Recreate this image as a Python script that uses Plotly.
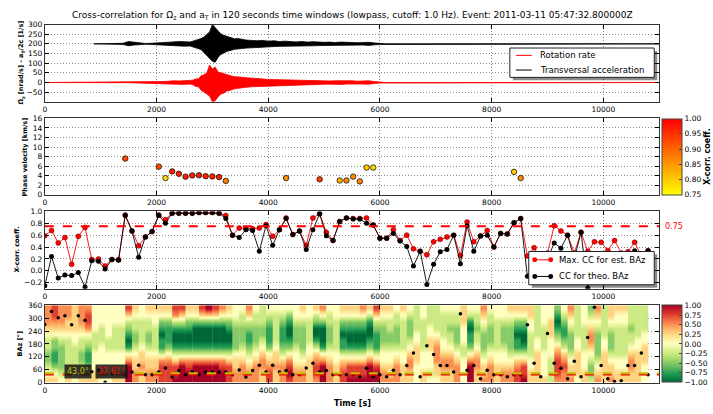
import plotly.graph_objects as go
import plotly.colors as pc

W, H = 713, 414

# ---------------- data ----------------
# seismogram envelopes (max / min per bin, relative to trace baseline)
seis_t = ([1400, 1500, 1600, 1700, 1800, 1900, 2000, 2100, 2200, 2300, 2400, 2500, 2600]
          + list(range(2650, 3501, 50)) + list(range(3600, 6001, 100)))
acc_hi = [3, 12, 8, 3, 2, 3, 4, 6, 9, 10, 12, 11, 10,
          14, 18, 22, 28, 35, 50, 62, 100, 85, 65, 52, 44, 40, 34, 30, 26, 28, 24,
          20, 18, 16, 18, 14, 16, 12, 14, 12, 10, 12, 9, 11, 9, 8, 9, 7, 9, 7, 8, 6, 7, 8, 5, 3]
acc_lo = [-3, -10, -6, -3, -2, -3, -4, -6, -8, -11, -10, -12, -11,
          -15, -20, -25, -30, -45, -55, -75, -90, -95, -70, -55, -48, -40, -35, -32, -28, -26, -25,
          -22, -18, -17, -16, -15, -14, -13, -12, -13, -10, -11, -10, -10, -9, -8, -8, -8, -9, -7,
          -8, -6, -6, -8, -5, -3]
rot_hi = [1, 1, 1, 1, 1, 2, 3, 5, 6, 9, 8, 10, 9,
          12, 18, 20, 35, 40, 50, 90, 70, 80, 55, 50, 45, 42, 35, 33, 30, 30, 28,
          25, 22, 20, 18, 16, 15, 14, 16, 12, 12, 11, 12, 10, 10, 9, 8, 9, 10, 8, 9, 7, 8, 9, 5, 3]
rot_lo = [-1, -1, -1, -1, -1, -2, -3, -5, -6, -9, -9, -10, -8,
          -12, -20, -22, -40, -48, -60, -70, -100, -95, -75, -60, -55, -45, -40, -38, -32, -30, -28,
          -25, -22, -20, -18, -16, -15, -14, -13, -12, -12, -11, -10, -10, -10, -9, -9, -8, -10,
          -8, -9, -7, -8, -9, -5, -3]
acc_offset = 200
acc_start = 880
t_end = 11000

# window start times (120 s windows)
win_t = list(range(0, 10801, 120))

cc_est = [0.59, 0.68, 0.47, 0.56, 0.11, 0.58, 0.73, 0.19, 0.20, 0.08, 0.19, 0.19, 0.94, 0.67, 0.42,
          0.57, 0.66, 0.94, 0.86, 0.97, 0.97, 0.97, 0.97, 0.98, 0.98, 0.98, 0.97, 0.93, 0.60, 0.72,
          0.71, 0.71, 0.72, 0.78, 0.58, 0.69, 0.89, 0.61, 0.67, 0.43, 0.89, 0.96, 0.65, 0.51, 0.83,
          0.89, 0.88, 0.88, 0.89, 0.77, 0.55, 0.55, 0.69, 0.51, 0.60, 0.37, 0.33, 0.27, 0.49, 0.53,
          0.57, 0.60, 0.26, 0.82, 0.49, 0.59, 0.68, 0.40, 0.63, 0.62, 0.81, 0.88, 0.25, 0.39, 0.20,
          0.30, 0.76, 0.67, 0.60, 0.30, 0.65, 0.33, 0.49, 0.48, 0.34, 0.51, 0.30, 0.32, 0.48, 0.25,
          0.34]
cc_theo = [-0.25, 0.24, -0.12, -0.07, -0.08, -0.03, -0.27, 0.17, 0.16, 0.03, 0.19, 0.18, 0.93, 0.67,
           0.23, 0.57, 0.66, 0.93, 0.80, 0.97, 0.97, 0.97, 0.97, 0.98, 0.98, 0.98, 0.97, 0.88, 0.60,
           0.56, 0.69, 0.68, 0.33, 0.76, 0.43, 0.69, 0.88, 0.61, 0.67, 0.36, 0.69, 0.96, 0.59, 0.51,
           0.83, 0.89, 0.87, 0.87, 0.80, 0.77, 0.55, 0.55, 0.63, 0.50, 0.41, 0.08, 0.33, -0.23, 0.11,
           0.32, 0.36, 0.60, 0.12, 0.76, 0.33, 0.58, 0.60, 0.40, 0.63, 0.62, 0.81, 0.88, -0.09, 0.10,
           0.05, 0.20, 0.47, 0.38, 0.60, 0.20, 0.65, -0.29, 0.10, 0.20, 0.15, 0.25, 0.05, 0.20, 0.34,
           0.15, 0.34]
cc_threshold = 0.75

# estimated back azimuth per window
baz_est = [270, 331, 302, 311, 269, 311, 290, 50, 59, 2, 40, 45, 40, 49, 81, 36, 36, 49, 68, 26, 56,
           36, 49, 36, 49, 49, 49, 49, 36, 59, 26, 56, 81, 49, 81, 49, 56, 36, 36, 68, 90, 49, 56, 36,
           36, 36, 36, 27, 67, 27, 36, 27, 58, 36, 79, 138, 27, 172, 131, 79, 79, 49, 321, 58, 79, 18,
           58, 36, 36, 27, 36, 36, 269, 90, 27, 229, 90, 67, 18, 99, 27, 210, 351, 79, 18, 5, 9, 79,
           79, 138, 36]
baz_theo = 43.0
baz_mean_est = 37.61

# phase velocity estimates (windows with CC above threshold)
pv_t = [1440, 2040, 2160, 2280, 2400, 2520, 2640, 2760, 2880, 3000, 3120, 3240, 4320, 4920, 5280,
        5400, 5520, 5640, 5760, 5880, 8400, 8520]
pv_v = [7.6, 5.9, 3.5, 4.9, 4.4, 3.8, 4.05, 4.1, 3.9, 3.85, 3.7, 2.9, 3.5, 3.25, 3.0, 3.0, 3.8, 2.8,
        5.7, 5.7, 4.8, 3.5]
pv_cc = [0.93, 0.93, 0.78, 0.97, 0.97, 0.97, 0.97, 0.97, 0.97, 0.97, 0.97, 0.88, 0.86, 0.94, 0.83,
         0.87, 0.86, 0.87, 0.80, 0.79, 0.80, 0.87]

# CC as a function of back azimuth: one string per window, 12 bins of 30 deg (0 -> 360),
# digit d stands for CC = (d - 4) / 4
baz_centers = list(range(15, 360, 30))
cc_baz_cols = [
    "543223345666", "542112245677", "432222345666", "543333345566", "443333445555",
    "543223345666", "542112346776", "554443334444", "454444333444", "444443344444",
    "554443333444", "554443333444", "888641012357", "665543223345", "556554333344",
    "665543223345", "665543333445", "777631101245", "777642111245", "877531001367",
    "888631001357", "887631001245", "888631000245", "888631000257", "888631000258",
    "888631000257", "887631000246", "777531001245", "665542222344", "666543222334",
    "665432112356", "666543222334", "556654322333", "776542111234", "556554333334",
    "666532111234", "787642100124", "665443222344", "665432222345", "555544333344",
    "677653100235", "888641000246", "666543222334", "555443333344", "776531101245",
    "877531001245", "877531001245", "877531001246", "888642100135", "887531112357",
    "665443222345", "655443223345", "666543222334", "555443333345", "556654322234",
    "444555443333", "554443333344", "434445544333", "455666543333", "556654433334",
    "556654332334", "666543222334", "444433444555", "888642110134", "556654332334",
    "655432223456", "666543222334", "555443333344", "665443222344", "665432222345",
    "776531101245", "877531001245", "554433334455", "555554433333", "544443333444",
    "333344455544", "677765321012", "667653211234", "655432223456", "455554433333",
    "554443333444", "322345665432", "654322223456", "555554433333", "655432223455",
    "554433333445", "554433333445", "556654332333", "555554433333", "444555443333",
]
win_len = 120

FONT = "DejaVu Sans"
XD = [43 / W, 660 / W]


def ydom(top, bot):
    return [1 - bot / H, 1 - top / H]


def px(x):
    return x / W


def py(y):
    return 1 - y / H


def band(t, hi, lo, base, t0, t1):
    """Closed outline between the max and min envelopes of a trace."""
    xs = [t0] + t + [t[-1] + 100, t1]
    up = [base] + [base + v for v in hi] + [base, base]
    dn = [base] + [base + v for v in lo] + [base, base]
    return xs + xs[::-1], up + dn[::-1]


fig = go.Figure()

# panel 1: traces
rx, ry = band(seis_t, rot_hi, rot_lo, 0, 0, t_end)
ax_, ay_ = band(seis_t, acc_hi, acc_lo, acc_offset, acc_start, t_end)
fig.add_trace(go.Scatter(x=rx, y=ry, mode="lines", fill="toself", fillcolor="red",
                         line=dict(color="red", width=0.8), xaxis="x", yaxis="y",
                         showlegend=False))
fig.add_trace(go.Scatter(x=ax_, y=ay_, mode="lines", fill="toself", fillcolor="black",
                         line=dict(color="black", width=0.8), xaxis="x", yaxis="y",
                         showlegend=False))

# panel 2: phase velocity coloured by CC
autumn_r = [[0, "rgb(255,255,0)"], [1, "rgb(255,0,0)"]]
fig.add_trace(go.Scatter(
    x=pv_t, y=pv_v, mode="markers", xaxis="x2", yaxis="y2", showlegend=False,
    marker=dict(size=5.5, color=pv_cc, cmin=0.75, cmax=1.0, colorscale=autumn_r,
                line=dict(color="black", width=0.7),
                colorbar=dict(x=663 / W, xanchor="left", xpad=0, ypad=0, thickness=20,
                              len=(195 - 117) / H, lenmode="fraction", y=1 - 156 / H,
                              yanchor="middle", outlinecolor="#444", outlinewidth=1,
                              tickvals=[0.75, 0.8, 0.85, 0.9, 0.95, 1.0], tickformat=".2f",
                              ticks="inside", ticklen=3,
                              tickfont=dict(family=FONT, size=7.5, color="black"),
                              title=dict(text="<b>X-corr. coeff.</b>", side="right",
                                         font=dict(family=FONT, size=8, color="black")))),
))

# panel 3: CC time series
fig.add_trace(go.Scatter(x=win_t, y=cc_est, mode="lines+markers", xaxis="x3", yaxis="y3",
                         line=dict(color="red", width=0.9),
                         marker=dict(color="red", size=5, line=dict(color="#600", width=0.5)),
                         showlegend=False))
fig.add_trace(go.Scatter(x=win_t, y=cc_theo, mode="lines+markers", xaxis="x3", yaxis="y3",
                         line=dict(color="black", width=0.9),
                         marker=dict(color="black", size=5), showlegend=False))

# panel 4: CC over back azimuth, one smoothed column per window
rdylgn_r = pc.diverging.RdYlGn[::-1]
n = len(rdylgn_r)
cscale = [[i / (n - 1), c] for i, c in enumerate(rdylgn_r)]
for ci, col in enumerate(cc_baz_cols):
    t0 = win_t[ci]
    vals = [(int(ch) - 4) / 4 for ch in col]
    tr = dict(
        x=[t0 + win_len * 0.25, t0 + win_len * 0.75], y=baz_centers,
        z=[[v, v] for v in vals], zmin=-1, zmax=1, colorscale=cscale, zsmooth="best",
        xaxis="x4", yaxis="y4", showscale=(ci == 0), hoverinfo="skip",
    )
    if ci == 0:
        tr["colorbar"] = dict(x=663 / W, xanchor="left", xpad=0, ypad=0, thickness=20,
                              len=(387 - 308) / H, lenmode="fraction", y=1 - 347.5 / H,
                              yanchor="middle", outlinecolor="#444", outlinewidth=1,
                              tickvals=[-1, -0.75, -0.5, -0.25, 0, 0.25, 0.5, 0.75, 1],
                              tickformat=".2f", ticks="inside", ticklen=3,
                              tickfont=dict(family=FONT, size=7.5, color="black"))
    fig.add_trace(go.Heatmap(**tr))
fig.add_trace(go.Scatter(x=win_t, y=baz_est, mode="markers", xaxis="x4", yaxis="y4",
                         marker=dict(color="black", size=3.5), showlegend=False))

# ---------------- axes ----------------
common = dict(showline=True, linecolor="#333", linewidth=1, mirror="ticks", ticks="inside",
              ticklen=4, tickcolor="black", showgrid=True, gridcolor="rgba(0,0,0,0.45)",
              griddash="1px,2px", gridwidth=0.6, zeroline=False,
              tickfont=dict(family=FONT, size=7.5, color="black"))
xt = [0, 2000, 4000, 6000, 8000, 10000]
xtick = dict(range=[0, 11000], tickvals=xt, ticktext=[str(v) for v in xt])

doms = [ydom(21, 100), ydom(117, 195), ydom(212, 291), ydom(308, 387)]
fig.update_layout(
    xaxis=dict(domain=XD, anchor="y", **xtick, **common),
    xaxis2=dict(domain=XD, anchor="y2", **xtick, **common),
    xaxis3=dict(domain=XD, anchor="y3", **xtick, **common),
    xaxis4=dict(domain=XD, anchor="y4", **xtick, **common),
    yaxis=dict(domain=doms[0], anchor="x", range=[-100, 300],
               tickvals=[-50, 0, 50, 100, 150, 200, 250, 300], **common),
    yaxis2=dict(domain=doms[1], anchor="x2", range=[0, 16],
                tickvals=list(range(0, 17, 2)), **common),
    yaxis3=dict(domain=doms[2], anchor="x3", range=[-0.3, 1.0],
                tickvals=[-0.2, 0, 0.2, 0.4, 0.6, 0.8, 1.0], tickformat=".1f", **common),
    yaxis4=dict(domain=doms[3], anchor="x4", range=[0, 360],
                tickvals=list(range(0, 361, 60)), **common),
    showlegend=False,
)

# ---------------- reference lines ----------------
shapes = [
    dict(type="line", xref="x3", yref="y3", x0=0, x1=11000, y0=cc_threshold, y1=cc_threshold,
         line=dict(color="red", width=2, dash="dash")),
    dict(type="line", xref="x4", yref="y4", x0=0, x1=11000, y0=baz_mean_est, y1=baz_mean_est,
         line=dict(color="red", width=2, dash="dash")),
    dict(type="line", xref="x4", yref="y4", x0=0, x1=11000, y0=baz_theo, y1=baz_theo,
         line=dict(color="#bfbf00", width=2, dash="dash")),
]

# ---------------- legends (box with shadow, samples, labels) ----------------
ann = []
legends = [
    # box left, top, right, bottom; entries: (colour, label, with markers)
    ((510, 45, 655, 75), [("red", "Rotation rate", False),
                          ("black", "Transversal acceleration", False)]),
    ((529, 253, 655, 287), [("red", "Max. CC for est. BAz", True),
                            ("black", "CC for theo. BAz", True)]),
]
for (l, t, r, b), entries in legends:
    shapes.append(dict(type="rect", xref="paper", yref="paper", x0=px(l + 3), x1=px(r + 3),
                       y0=py(b + 3), y1=py(t + 3), fillcolor="rgba(0,0,0,0.45)",
                       line=dict(width=0), layer="above"))
    shapes.append(dict(type="rect", xref="paper", yref="paper", x0=px(l), x1=px(r),
                       y0=py(b), y1=py(t), fillcolor="white",
                       line=dict(color="#222", width=1), layer="above"))
    step = (b - t) / len(entries)
    for k, (colr, label, mk) in enumerate(entries):
        yc = t + step * (k + 0.5)
        x0s, x1s = l + 6, l + 22
        shapes.append(dict(type="line", xref="paper", yref="paper", x0=px(x0s), x1=px(x1s),
                           y0=py(yc), y1=py(yc), line=dict(color=colr, width=1),
                           layer="above"))
        if mk:
            for xm in (x0s, x1s):
                shapes.append(dict(type="circle", xref="paper", yref="paper",
                                   x0=px(xm - 2.5), x1=px(xm + 2.5), y0=py(yc + 2.5),
                                   y1=py(yc - 2.5), fillcolor=colr,
                                   line=dict(color=colr, width=0), layer="above"))
        ann.append(dict(text=label, xref="paper", yref="paper", x=px(x1s + 6), y=py(yc),
                        xanchor="left", yanchor="middle", showarrow=False,
                        font=dict(family=FONT, size=8.5, color="black")))
fig.update_layout(shapes=shapes)

# ---------------- text ----------------
ann.append(dict(text="Cross-correlation for \u03A9\u0307<sub>z</sub> and a<sub>T</sub> in 120 seconds "
                     "time windows (lowpass, cutoff: 1.0 Hz). Event: 2011-03-11 05:47:32.800000Z",
                xref="paper", yref="paper", x=px(352), y=py(12), xanchor="center",
                yanchor="middle", showarrow=False,
                font=dict(family=FONT, size=9, color="black")))
ylabels = [
    ("<b>\u03A9\u0307<sub>z</sub> [nrad/s] - a<sub>T</sub>/2c [1/s]</b>", 19, 60),
    ("<b>Phase velocity [km/s]</b>", 23, 156),
    ("<b>X-corr. coeff.</b>", 15, 251),
    ("<b>BAz [\u00b0]</b>", 19, 347),
]
for txt, xp, yp in ylabels:
    ann.append(dict(text=txt, xref="paper", yref="paper", x=px(xp), y=py(yp), textangle=-90,
                    xanchor="center", yanchor="middle", showarrow=False,
                    font=dict(family=FONT, size=6.5, color="black")))
ann.append(dict(text="<b>Time [s]</b>", xref="paper", yref="paper", x=px(352), y=py(408),
                xanchor="center", yanchor="middle", showarrow=False,
                font=dict(family=FONT, size=8, color="black")))
ann.append(dict(text="%.2f" % cc_threshold, xref="paper", yref="y3", x=px(664), y=cc_threshold,
                xanchor="left", yanchor="middle", showarrow=False,
                font=dict(family=FONT, size=8, color="red")))
ann.append(dict(text="%.1f\u00b0" % baz_theo, xref="x4", yref="y4", x=590, y=50,
                xanchor="center", yanchor="middle", showarrow=False,
                bgcolor="rgba(20,20,20,0.85)", borderpad=2,
                font=dict(family=FONT, size=8, color="#bfbf00")))
ann.append(dict(text="%.2f\u00b0" % baz_mean_est, xref="x4", yref="y4", x=1195, y=50,
                xanchor="center", yanchor="middle", showarrow=False,
                bgcolor="rgba(20,20,20,0.85)", borderpad=2,
                font=dict(family=FONT, size=8, color="red")))
fig.update_layout(annotations=ann)

fig.update_layout(width=W, height=H, margin=dict(l=0, r=0, t=0, b=0),
                  paper_bgcolor="white", plot_bgcolor="white",
                  font=dict(family=FONT, size=8, color="black"))

fig.write_html("out.html")
